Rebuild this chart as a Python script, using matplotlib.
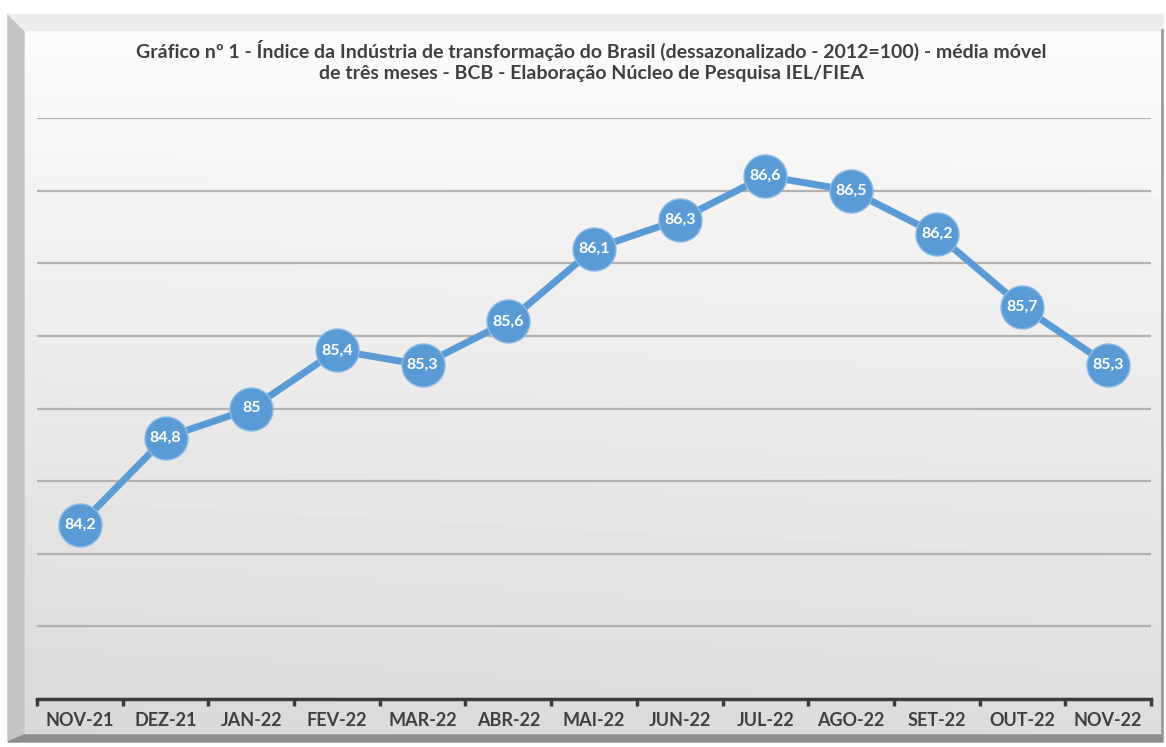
import numpy as np
import matplotlib
matplotlib.use("Agg")
import matplotlib.pyplot as plt
from matplotlib.patches import Polygon

months = ["NOV-21", "DEZ-21", "JAN-22", "FEV-22", "MAR-22", "ABR-22", "MAI-22",
          "JUN-22", "JUL-22", "AGO-22", "SET-22", "OUT-22", "NOV-22"]
values = [84.2, 84.8, 85.0, 85.4, 85.3, 85.6, 86.1, 86.3, 86.6, 86.5, 86.2, 85.7, 85.3]
title = ("Gráfico nº 1 - Índice da Indústria de transformação do Brasil (dessazonalizado - 2012=100) - média móvel\n"
         "de três meses - BCB - Elaboração Núcleo de Pesquisa IEL/FIEA")

W, H = 1166, 747
fig = plt.figure(figsize=(W / 100, H / 100), dpi=100)
fig.patch.set_facecolor("white")

# background panel with bevel, drawn in pixel coords
bg = fig.add_axes([0, 0, 1, 1], zorder=0)
bg.set_xlim(0, W)
bg.set_ylim(H, 0)
bg.axis("off")
ty = np.linspace(0, 1, 200)[:, None]
tx = np.linspace(0, 1, 200)[None, :]
grad = 0.985 - 0.12 * ty - 0.015 * (1 - tx) * ty
bg.imshow(grad, cmap="gray", vmin=0, vmax=1, extent=[24, 1163, 735, 30], aspect="auto", zorder=0)
bg.add_patch(Polygon([(8, 14), (24, 30), (24, 735), (8, 742)], closed=True, color="#c4c4c4", zorder=1))
bg.add_patch(Polygon([(8, 14), (1163, 14), (1163, 30), (24, 30)], closed=True, color="#ececec", zorder=1))
bg.add_patch(Polygon([(8, 742), (24, 735), (1163, 735), (1163, 742)], closed=True, color="#8c8c8c", zorder=1))
bg.plot([1162, 1162], [30, 735], color="#9a9a9a", lw=2, zorder=2)

ax = fig.add_axes([37 / W, 1 - 699 / H, (1151 - 37) / W, (699 - 118) / H], zorder=1)
ax.patch.set_alpha(0)
x = np.arange(len(months))
ax.set_xlim(-0.5, len(months) - 0.5)
ax.set_ylim(83, 87)

for g in np.arange(83.5, 87.01, 0.5):
    ax.axhline(g, color="#b2b2b2", lw=1.6, zorder=1)

ax.plot(x, values, color="#5b9bd5", lw=5, marker="o", markersize=31,
        markerfacecolor="#5b9bd5", markeredgecolor="#8dbbe4", markeredgewidth=1.0, zorder=3)
for xi, v in zip(x, values):
    lab = f"{v:g}".replace(".", ",")
    ax.text(xi, v, lab, ha="center", va="center", color="white", fontsize=11.5,
            fontweight="bold", family="Lato", zorder=4)

for s in ["left", "right", "top"]:
    ax.spines[s].set_visible(False)
ax.spines["bottom"].set_color("#3c3c3c")
ax.spines["bottom"].set_linewidth(2.5)
ax.set_yticks([])
ax.set_xticks(x)
ax.set_xticklabels(months, fontsize=13, fontweight="bold", color="#404040", family="Lato")
ax.tick_params(axis="x", which="major", length=0, pad=9)
ax.set_xticks(np.arange(-0.5, len(months), 1), minor=True)
ax.tick_params(axis="x", which="minor", length=5, width=2.5, color="#3c3c3c", direction="out")

fig.text(591 / W, 1 - 61 / H, title, ha="center", va="center", fontsize=14, fontweight="bold",
         color="#404040", family="Lato", linespacing=1.3)

fig.savefig("out.png", dpi=100)
